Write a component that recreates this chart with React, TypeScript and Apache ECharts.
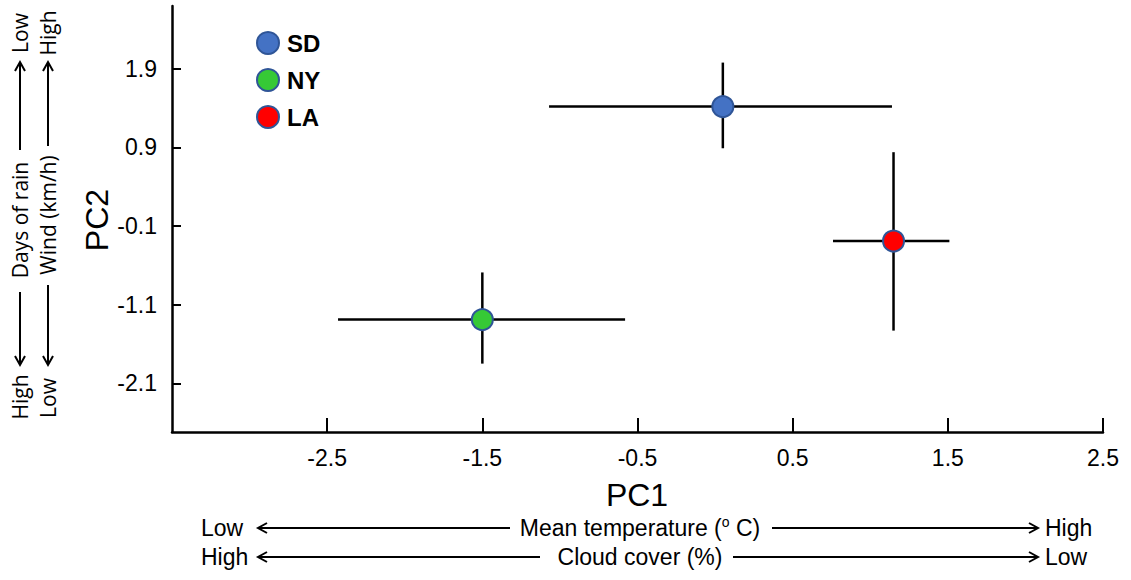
import React, { useEffect, useRef } from "react";
import * as echarts from "echarts";

const cities = ["SD", "NY", "LA"];
const pc1 = [0.05, -1.5, 1.15];
const pc2 = [1.42, -1.29, -0.29];
const pc1Low = [-1.07, -2.43, 0.76];
const pc1High = [1.14, -0.58, 1.51];
const pc2Low = [0.89, -1.85, -1.43];
const pc2High = [1.98, -0.69, 0.84];
const fillColors = ["#4472C4", "#36C936", "#FF0000"];
const xTicks = [-2.5, -1.5, -0.5, 0.5, 1.5, 2.5];
const yTicks = [-2.1, -1.1, -0.1, 0.9, 1.9];

const BORDER = "#2F5597";
const FONT = "'Liberation Sans', Arial, sans-serif";
const SIDE_FONT = "'Open Sans', 'DejaVu Sans', sans-serif";

function hArrow(x1: number, x2: number, y: number, headAt: "left" | "right") {
  const hx = headAt === "left" ? x1 : x2;
  const d = headAt === "left" ? 9 : -9;
  return [
    { type: "line", shape: { x1, y1: y, x2, y2: y }, style: { stroke: "#000", lineWidth: 2 } },
    {
      type: "polyline",
      shape: { points: [[hx + d, y - 5], [hx, y], [hx + d, y + 5]] },
      style: { stroke: "#000", lineWidth: 2, fill: null },
    },
  ];
}

function vArrow(x: number, y1: number, y2: number, headAt: "top" | "bottom") {
  const hy = headAt === "top" ? y1 : y2;
  const d = headAt === "top" ? 9 : -9;
  return [
    { type: "line", shape: { x1: x, y1, x2: x, y2 }, style: { stroke: "#000", lineWidth: 2 } },
    {
      type: "polyline",
      shape: { points: [[x - 5, hy + d], [x, hy], [x + 5, hy + d]] },
      style: { stroke: "#000", lineWidth: 2, fill: null },
    },
  ];
}

function vText(x: number, y: number, text: string, size = 21, font = SIDE_FONT) {
  return {
    type: "text",
    x,
    y,
    rotation: Math.PI / 2,
    style: { text, font: `${size}px ${font}`, fill: "#000", align: "center", verticalAlign: "middle" },
  };
}

function hText(x: number, y: number, text: string, align: string, size = 23) {
  return {
    type: "text",
    x,
    y,
    style: { text, font: `${size}px ${FONT}`, fill: "#000", align, verticalAlign: "middle" },
  };
}

export default function App() {
  const ref = useRef<HTMLDivElement>(null);
  useEffect(() => {
    if (!ref.current) return;
    const chart = echarts.init(ref.current, undefined, { renderer: "svg" });

    const errData = cities.map((_, i) => [pc1[i], pc2[i], pc1Low[i], pc1High[i], pc2Low[i], pc2High[i]]);

    const scatterSeries = cities.map((c, i) => ({
      name: c,
      type: "scatter",
      symbol: "circle",
      symbolSize: 21,
      z: 5,
      itemStyle: { color: fillColors[i], borderColor: BORDER, borderWidth: 2, opacity: 1 },
      data: [[pc1[i], pc2[i]]],
    }));

    const graphics: any[] = [
      { type: "text", x: 637, y: 495, style: { text: "PC1", font: `32px ${FONT}`, fill: "#000", align: "center", verticalAlign: "middle" } },
      vText(97, 220, "PC2", 32, FONT),
      vText(20, 33, "Low"),
      ...vArrow(20, 62, 150, "top"),
      vText(20, 220, "Days of rain"),
      ...vArrow(20, 292, 365, "bottom"),
      vText(20, 397, "High"),
      vText(48, 33, "High"),
      ...vArrow(48, 62, 146, "top"),
      vText(48, 215, "Wind (km/h)"),
      ...vArrow(48, 285, 365, "bottom"),
      vText(48, 398, "Low"),
      hText(201, 528, "Low", "left"),
      ...hArrow(258, 510, 528, "left"),
      {
        type: "text",
        x: 640,
        y: 528,
        style: {
          text: "{a|Mean temperature (}{s|o}{a| C)}",
          align: "center",
          verticalAlign: "middle",
          rich: {
            a: { font: `23px ${FONT}`, fill: "#000", lineHeight: 26, verticalAlign: "middle" },
            s: { font: `14px ${FONT}`, fill: "#000", lineHeight: 26, verticalAlign: "top" },
          },
        },
      },
      ...hArrow(772, 1038, 528, "right"),
      hText(1045, 528, "High", "left"),
      hText(201, 557, "High", "left"),
      ...hArrow(258, 540, 557, "left"),
      hText(640, 557, "Cloud cover (%)", "center"),
      ...hArrow(733, 1038, 557, "right"),
      hText(1045, 557, "Low", "left"),
    ];

    chart.setOption({
      animation: false,
      backgroundColor: "#fff",
      grid: { left: 172, right: 28, top: 6, bottom: 148, containLabel: false },
      legend: {
        orient: "vertical",
        left: 256,
        top: 31,
        padding: 0,
        itemWidth: 22,
        itemHeight: 22,
        itemGap: 13,
        data: cities,
        textStyle: { fontFamily: FONT, fontWeight: "bold", fontSize: 24, color: "#000", padding: [0, 0, 0, 3], lineHeight: 22 },
      },
      xAxis: {
        type: "value",
        min: -3.5,
        max: 2.5,
        splitLine: { show: false },
        axisLine: { onZero: false, lineStyle: { color: "#000", width: 2.5 } },
        axisTick: { inside: true, length: 14, customValues: xTicks, lineStyle: { color: "#000", width: 2 } },
        axisLabel: {
          customValues: xTicks,
          margin: 14,
          fontFamily: FONT,
          fontSize: 23,
          color: "#000",
          formatter: (v: number) => v.toFixed(1),
        },
      },
      yAxis: {
        type: "value",
        min: -2.72,
        max: 2.7,
        splitLine: { show: false },
        axisLine: { onZero: false, lineStyle: { color: "#000", width: 2.5 } },
        axisTick: { inside: true, length: 9, customValues: yTicks, lineStyle: { color: "#000", width: 2 } },
        axisLabel: {
          customValues: yTicks,
          margin: 15,
          fontFamily: FONT,
          fontSize: 23,
          color: "#000",
          formatter: (v: number) => v.toFixed(1),
        },
      },
      series: [
        {
          type: "custom",
          name: "err",
          z: 2,
          encode: { x: 0, y: 1 },
          data: errData,
          renderItem: (params: any, api: any) => {
            const x = api.value(0);
            const y = api.value(1);
            const a = api.coord([api.value(2), y]);
            const b = api.coord([api.value(3), y]);
            const c = api.coord([x, api.value(4)]);
            const d = api.coord([x, api.value(5)]);
            return {
              type: "group",
              children: [
                { type: "line", shape: { x1: a[0], y1: a[1], x2: b[0], y2: b[1] }, style: { stroke: "#000", lineWidth: 2.5 } },
                { type: "line", shape: { x1: c[0], y1: c[1], x2: d[0], y2: d[1] }, style: { stroke: "#000", lineWidth: 2.5 } },
              ],
            };
          },
        },
        ...scatterSeries,
      ],
      graphic: graphics,
    });
    return () => chart.dispose();
  }, []);
  return <div ref={ref} style={{ width: 1131, height: 580, position: "absolute", left: 0, top: 0 }} />;
}
